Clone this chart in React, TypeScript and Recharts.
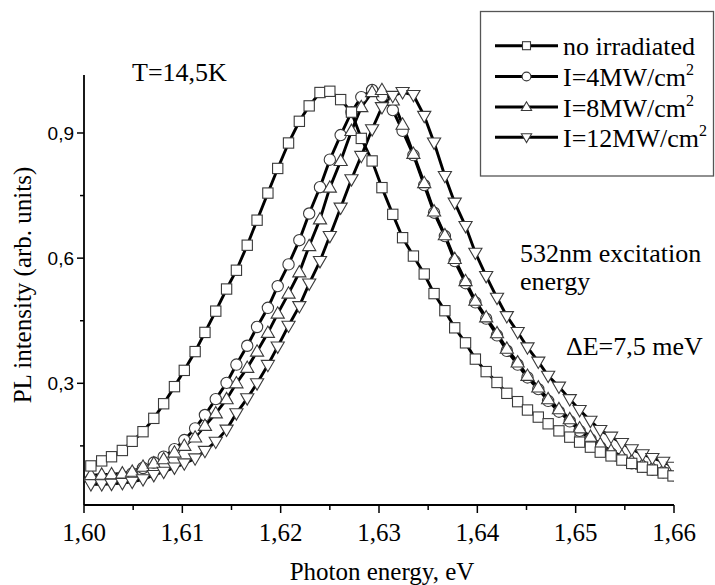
import { LineChart, Line, XAxis, YAxis } from 'recharts';

// photon energy grid (eV), shared by all four spectra
const energy = [
  1.6007, 1.6018, 1.6028, 1.6039, 1.6049, 1.606, 1.6071, 1.6081, 1.6092, 1.6102,
  1.6113, 1.6123, 1.6134, 1.6145, 1.6155, 1.6166, 1.6176, 1.6187, 1.6197, 1.6208,
  1.6219, 1.6229, 1.624, 1.625, 1.6261, 1.6272, 1.6282, 1.6293, 1.6303, 1.6314,
  1.6324, 1.6335, 1.6346, 1.6356, 1.6367, 1.6377, 1.6388, 1.6398, 1.6409, 1.642,
  1.643, 1.6441, 1.6451, 1.6462, 1.6472, 1.6483, 1.6494, 1.6504, 1.6515, 1.6525,
  1.6536, 1.6547, 1.6557, 1.6568, 1.6578, 1.6589, 1.6599,
];

const noIrradiated = [
  0.102, 0.114, 0.124, 0.139, 0.161, 0.184, 0.216, 0.251, 0.292, 0.331,
  0.376, 0.422, 0.473, 0.526, 0.571, 0.631, 0.691, 0.756, 0.815, 0.876,
  0.928, 0.965, 0.997, 1.0, 0.98, 0.95, 0.887, 0.833, 0.769, 0.705,
  0.649, 0.605, 0.562, 0.515, 0.474, 0.433, 0.397, 0.358, 0.328, 0.302,
  0.276, 0.256, 0.236, 0.219, 0.203, 0.186, 0.171, 0.159, 0.147, 0.135,
  0.126, 0.116, 0.108, 0.099, 0.092, 0.085, 0.078,
];

const i4 = [
  0.07, 0.071, 0.073, 0.076, 0.084, 0.097, 0.11, 0.124, 0.142, 0.164,
  0.192, 0.224, 0.262, 0.301, 0.345, 0.39, 0.435, 0.481, 0.533, 0.585,
  0.643, 0.707, 0.77, 0.836, 0.895, 0.95, 0.986, 1.003, 0.988, 0.955,
  0.905, 0.847, 0.775, 0.709, 0.653, 0.593, 0.54, 0.494, 0.455, 0.415,
  0.378, 0.345, 0.314, 0.286, 0.258, 0.232, 0.209, 0.186, 0.166, 0.147,
  0.132, 0.119, 0.108, 0.1, 0.093, 0.087, 0.08,
];

const i8 = [
  0.08, 0.081, 0.082, 0.084, 0.088, 0.1, 0.108, 0.118, 0.134, 0.15,
  0.17, 0.198, 0.228, 0.262, 0.3, 0.337, 0.376, 0.421, 0.467, 0.515,
  0.566, 0.629, 0.693, 0.769, 0.833, 0.905, 0.962, 0.998, 1.003, 0.978,
  0.92, 0.85, 0.78, 0.712, 0.655, 0.598, 0.545, 0.498, 0.458, 0.42,
  0.383, 0.35, 0.318, 0.29, 0.262, 0.238, 0.214, 0.192, 0.172, 0.154,
  0.138, 0.125, 0.114, 0.105, 0.098, 0.092, 0.086,
];

const i12 = [
  0.058, 0.058, 0.059, 0.061, 0.064, 0.07, 0.08, 0.088, 0.098, 0.108,
  0.12, 0.138, 0.16, 0.189, 0.228, 0.264, 0.3, 0.344, 0.388, 0.438,
  0.485, 0.539, 0.593, 0.653, 0.721, 0.789, 0.845, 0.909, 0.962, 0.989,
  0.998, 0.991, 0.941, 0.877, 0.797, 0.733, 0.677, 0.613, 0.557, 0.505,
  0.461, 0.423, 0.386, 0.352, 0.318, 0.292, 0.262, 0.236, 0.21, 0.188,
  0.172, 0.157, 0.142, 0.13, 0.121, 0.112, 0.1,
];

const xTicks = [1.6, 1.605, 1.61, 1.615, 1.62, 1.625, 1.63, 1.635, 1.64, 1.645, 1.65, 1.655, 1.66];
const yTicks = [0.15, 0.3, 0.45, 0.6, 0.75, 0.9];

const data = energy.map((e, i) => ({
  e,
  s0: noIrradiated[i],
  s1: i4[i],
  s2: i8[i],
  s3: i12[i],
}));

const SERIF = '"Liberation Serif", "Times New Roman", serif';
const SANS = '"Liberation Sans", Arial, sans-serif';
const MARKER_STROKE = '#3a3a3a';

type Shape = 'square' | 'circle' | 'up' | 'down';

function marker(shape: Shape, cx: number, cy: number, s: number, key?: any) {
  const common = { fill: '#fff', stroke: MARKER_STROKE, strokeWidth: 1.1 };
  if (shape === 'square') {
    return <rect key={key} x={cx - s / 2} y={cy - s / 2} width={s} height={s} {...common} />;
  }
  if (shape === 'circle') {
    return <circle key={key} cx={cx} cy={cy} r={s * 0.55} {...common} />;
  }
  const h = s * 1.1;
  const w = s * 0.64;
  const pts =
    shape === 'up'
      ? `${cx},${cy - h * 0.6} ${cx - w},${cy + h * 0.4} ${cx + w},${cy + h * 0.4}`
      : `${cx},${cy + h * 0.6} ${cx - w},${cy - h * 0.4} ${cx + w},${cy - h * 0.4}`;
  return <polygon key={key} points={pts} {...common} />;
}

const makeDot = (shape: Shape) => (props: any) => {
  const { cx, cy, index } = props;
  if (cx == null || cy == null) return <g key={`n-${index}`} />;
  return marker(shape, cx, cy, 10.3, `${shape}-${index}`);
};

const series: { key: string; shape: Shape; name: string; sup?: string }[] = [
  { key: 's0', shape: 'square', name: 'no irradiated' },
  { key: 's1', shape: 'circle', name: 'I=4MW/cm', sup: '2' },
  { key: 's2', shape: 'up', name: 'I=8MW/cm', sup: '2' },
  { key: 's3', shape: 'down', name: 'I=12MW/cm', sup: '2' },
];
// draw order in the plot (circles under the triangles)
const drawOrder = ['s1', 's2', 's3', 's0'];

const isMajor = (v: number, step: number) => Math.abs(v / step - Math.round(v / step)) < 1e-6;

const YTick = (props: any) => {
  const { x, y, payload } = props;
  const major = isMajor(payload.value, 0.3);
  return (
    <g>
      <line x1={x - (major ? 7 : 4)} x2={x} y1={y} y2={y} stroke="#000" strokeWidth={1.5} />
      {major && (
        <text x={x - 10} y={y + 7} textAnchor="end" fontFamily={SANS} fontSize={19} fill="#000">
          {payload.value.toFixed(1).replace('.', ',')}
        </text>
      )}
    </g>
  );
};

const XTick = (props: any) => {
  const { x, y, payload } = props;
  const major = isMajor(payload.value, 0.01);
  return (
    <g>
      <line x1={x} x2={x} y1={y} y2={y + (major ? 8 : 5)} stroke="#000" strokeWidth={1.5} />
      {major && (
        <text x={x} y={y + 36} textAnchor="middle" fontFamily={SERIF} fontSize={25} fill="#000">
          {payload.value.toFixed(2).replace('.', ',')}
        </text>
      )}
    </g>
  );
};

const legendRows = [45.7, 76.5, 107, 137.3];

export default function App() {
  return (
    <div style={{ position: 'absolute', left: 0, top: 0, width: 715, height: 585, background: '#fff' }}>
      <LineChart width={715} height={585} data={data} margin={{ top: 75, right: 41, bottom: 0, left: 0 }}>
        <XAxis
          dataKey="e"
          type="number"
          domain={[1.6, 1.66]}
          ticks={xTicks}
          interval={0}
          allowDataOverflow
          height={80}
          tickSize={0}
          tickMargin={0}
          tickLine={false}
          axisLine={{ stroke: '#000', strokeWidth: 1.8 }}
          tick={<XTick />}
        />
        <YAxis
          type="number"
          domain={[0.0083, 1.039]}
          ticks={yTicks}
          interval={0}
          allowDataOverflow
          width={84}
          tickSize={0}
          tickMargin={0}
          tickLine={false}
          axisLine={{ stroke: '#000', strokeWidth: 1.8 }}
          tick={<YTick />}
        />
        {drawOrder.map((k) => {
          const s = series.find((q) => q.key === k)!;
          return (
            <Line
              key={k}
              dataKey={k}
              type="linear"
              stroke="#000"
              strokeWidth={2.9}
              dot={makeDot(s.shape)}
              activeDot={false}
              isAnimationActive={false}
            />
          );
        })}
      </LineChart>

      <svg
        width={715}
        height={585}
        style={{ position: 'absolute', left: 0, top: 0, pointerEvents: 'none' }}
      >
        <text x={132} y={81} fontFamily={SERIF} fontSize={26} fill="#000">T=14,5K</text>
        <text x={520} y={262} fontFamily={SERIF} fontSize={26} fill="#000">532nm excitation</text>
        <text x={520} y={290} fontFamily={SERIF} fontSize={26} fill="#000">energy</text>
        <text x={566} y={355} fontFamily={SERIF} fontSize={26} fill="#000">ΔE=7,5 meV</text>

        <text
          x={0}
          y={0}
          transform="translate(31,285) rotate(-90)"
          textAnchor="middle"
          fontFamily={SERIF}
          fontSize={25}
          fill="#000"
        >
          PL intensity (arb. units)
        </text>
        <text x={382} y={580} textAnchor="middle" fontFamily={SERIF} fontSize={25} fill="#000">
          Photon energy, eV
        </text>

        <rect x={480.5} y={11.5} width={233} height={164.5} fill="#fff" stroke="#555" strokeWidth={1.3} />
        {series.map((s, i) => (
          <g key={s.key}>
            <line x1={495} x2={558} y1={legendRows[i]} y2={legendRows[i]} stroke="#000" strokeWidth={3} />
            {marker(s.shape, 526.5, legendRows[i], 8)}
            <text x={563} y={legendRows[i] + 9.5} fontFamily={SERIF} fontSize={26} fill="#000">
              {s.name}
              {s.sup && (
                <tspan fontSize={16} dy={-11}>
                  {s.sup}
                </tspan>
              )}
            </text>
          </g>
        ))}
      </svg>
    </div>
  );
}
